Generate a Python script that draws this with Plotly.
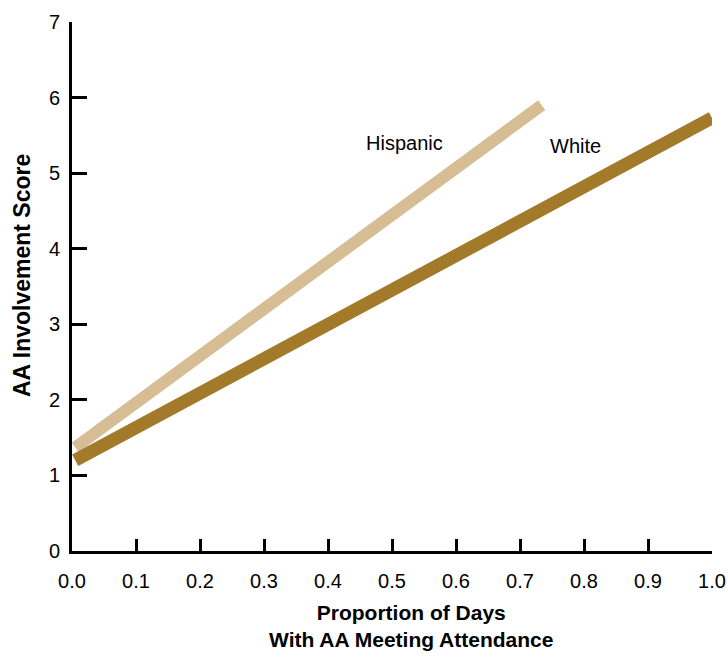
import plotly.graph_objects as go

hispanic_x = [0.005, 0.734]
hispanic_y = [1.37, 5.90]
white_x = [0.005, 1.0]
white_y = [1.20, 5.73]

x_ticks = [0.0, 0.1, 0.2, 0.3, 0.4, 0.5, 0.6, 0.7, 0.8, 0.9, 1.0]
x_ticklabels = ["0.0", "0.1", "0.2", "0.3", "0.4", "0.5", "0.6", "0.7", "0.8", "0.9", "1.0"]
y_ticks = [0, 1, 2, 3, 4, 5, 6, 7]

FONT = "Liberation Sans, Arial, sans-serif"

fig = go.Figure()
fig.add_trace(go.Scatter(x=hispanic_x, y=hispanic_y, mode="lines",
                         line=dict(color="#D6BD93", width=12), name="Hispanic",
                         showlegend=False))
fig.add_trace(go.Scatter(x=white_x, y=white_y, mode="lines",
                         line=dict(color="#A27A2A", width=13), name="White",
                         showlegend=False))

fig.update_layout(
    width=728, height=666, autosize=False,
    margin=dict(l=72, r=16, t=22, b=115, autoexpand=False),
    plot_bgcolor="white", paper_bgcolor="white",
    font=dict(family=FONT, color="black", size=20),
    xaxis=dict(range=[0, 1], tickvals=x_ticks, ticktext=x_ticklabels,
               showline=True, linecolor="black", linewidth=3,
               ticks="inside", ticklen=12, tickwidth=3, tickcolor="black",
               showgrid=False, zeroline=False, ticklabelstandoff=10,
               automargin=False, tickfont=dict(size=20)),
    yaxis=dict(range=[0, 7], tickvals=y_ticks,
               showline=True, linecolor="black", linewidth=3,
               ticks="inside", ticklen=15, tickwidth=3, tickcolor="black",
               showgrid=False, zeroline=False, ticklabelstandoff=5,
               automargin=False, tickfont=dict(size=20)),
    annotations=[
        dict(text="Hispanic", x=0.52, y=5.4, xref="x", yref="y",
             showarrow=False, font=dict(size=20)),
        dict(text="White", x=0.786, y=5.36, xref="x", yref="y",
             showarrow=False, font=dict(size=20)),
        dict(text="<b>Proportion of Days<br>With AA Meeting Attendance</b>",
             x=0.53, y=(551 - 626) / 529, xref="paper", yref="paper",
             xanchor="center", yanchor="middle", showarrow=False,
             font=dict(size=21)),
        dict(text="<b>AA Involvement Score</b>", textangle=-90,
             x=(22 - 72) / 640, y=(551 - 276) / 529, xref="paper", yref="paper",
             xanchor="center", yanchor="middle", showarrow=False,
             font=dict(size=23)),
    ],
)

fig.write_html("out.html", config={"displayModeBar": False})

# remove the default page margin so the figure sits at the window origin
with open("out.html", "r", encoding="utf-8") as f:
    html = f.read()
html = html.replace("<head>", "<head><style>html,body{margin:0;padding:0;overflow:hidden;}</style>", 1)
with open("out.html", "w", encoding="utf-8") as f:
    f.write(html)
